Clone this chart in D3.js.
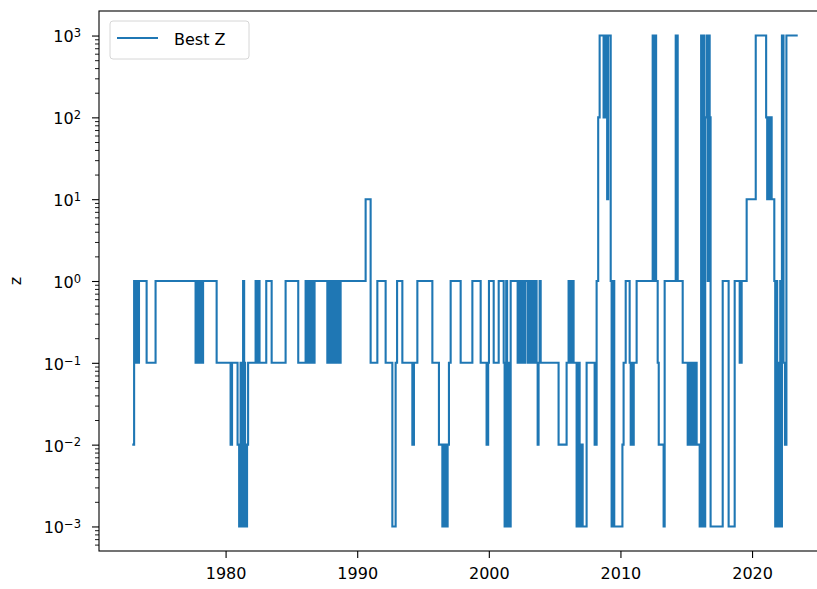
<!DOCTYPE html>
<html>
<head>
<meta charset="utf-8">
<script src="https://cdn.jsdelivr.net/npm/d3@7"></script>
<style>
body { margin: 0; background: #fff; }
svg { display: block; font-family: "DejaVu Sans", sans-serif; }
</style>
</head>
<body>
<svg id="chart" width="817" height="589"></svg>
<script>
// step series: each value holds from its date until the next date
var years = [
	1972.91, 1973.05, 1973.12, 1973.18, 1973.24, 1973.30, 1973.36, 1973.42, 1974.00, 1974.68,
	1977.72, 1977.83, 1977.95, 1978.06, 1978.18, 1978.29, 1979.32, 1980.38, 1980.49, 1980.91,
	1981.03, 1981.14, 1981.22, 1981.33, 1981.41, 1981.48, 1981.63, 1981.71, 1982.28, 1982.39,
	1982.47, 1982.58, 1983.09, 1983.50, 1984.56, 1985.52, 1986.08, 1986.19, 1986.31, 1986.42,
	1986.54, 1986.65, 1986.76, 1987.73, 1987.83, 1987.98, 1988.13, 1988.28, 1988.43, 1988.59,
	1988.74, 1990.64, 1991.02, 1991.53, 1992.16, 1992.67, 1992.92, 1993.03, 1993.43, 1994.19,
	1994.31, 1994.57, 1995.71, 1996.21, 1996.47, 1996.60, 1996.72, 1996.87, 1996.97, 1997.10,
	1997.86, 1998.75, 1999.38, 1999.83, 1999.95, 2000.01, 2000.37, 2000.75, 2001.13, 2001.20,
	2001.32, 2001.39, 2001.51, 2001.58, 2001.66, 2002.19, 2002.30, 2002.42, 2002.53, 2002.65,
	2002.76, 2002.95, 2003.06, 2003.18, 2003.29, 2003.40, 2003.52, 2003.63, 2003.71, 2003.78,
	2003.86, 2003.94, 2005.30, 2005.91, 2006.06, 2006.18, 2006.29, 2006.44, 2006.67, 2006.79,
	2006.90, 2007.05, 2007.13, 2007.43, 2008.04, 2008.19, 2008.31, 2008.42, 2008.72, 2008.88,
	2008.99, 2009.07, 2009.26, 2009.33, 2009.45, 2009.53, 2010.15, 2010.24, 2010.40, 2010.70,
	2010.78, 2010.85, 2010.93, 2011.01, 2011.23, 2012.45, 2012.56, 2012.64, 2012.71, 2012.83,
	2012.91, 2013.28, 2013.36, 2014.20, 2014.35, 2014.73, 2015.11, 2015.22, 2015.34, 2015.45,
	2015.56, 2015.68, 2015.79, 2016.02, 2016.13, 2016.21, 2016.28, 2016.36, 2016.44, 2016.55,
	2016.63, 2016.70, 2016.78, 2016.85, 2017.77, 2018.22, 2018.68, 2019.06, 2019.21, 2019.59,
	2020.28, 2021.07, 2021.15, 2021.22, 2021.30, 2021.38, 2021.49, 2021.69, 2021.76, 2021.83,
	2021.91, 2021.99, 2022.06, 2022.14, 2022.22, 2022.27, 2022.39, 2022.50, 2022.61, 2023.47
];
var bestZ = [
	0.01, 1, 0.1, 1, 0.1, 1, 0.1, 1, 0.1, 1,
	0.1, 1, 0.1, 1, 0.1, 1, 0.1, 0.01, 0.1, 0.01,
	0.001, 0.1, 0.001, 1, 0.1, 0.001, 0.01, 0.1, 1, 0.1,
	1, 0.1, 1, 0.1, 1, 0.1, 1, 0.1, 1, 0.1,
	1, 0.1, 1, 0.1, 1, 0.1, 1, 0.1, 1, 0.1,
	1, 10, 0.1, 1, 0.1, 0.001, 0.1, 1, 0.1, 0.01,
	0.1, 1, 0.1, 0.01, 0.001, 0.01, 0.001, 0.01, 0.1, 1,
	0.1, 1, 0.1, 0.01, 0.1, 1, 0.1, 1, 0.1, 0.001,
	1, 0.001, 0.1, 0.001, 1, 0.1, 1, 0.1, 1, 0.1,
	1, 0.1, 1, 0.1, 1, 0.1, 1, 0.1, 0.01, 0.1,
	1, 0.1, 0.01, 0.1, 1, 0.1, 1, 0.1, 0.001, 0.1,
	0.001, 0.01, 0.001, 0.1, 0.01, 1, 100, 1000, 100, 1000,
	10, 1000, 1, 0.001, 1, 0.001, 0.01, 0.1, 1, 0.1,
	0.01, 0.1, 0.01, 0.1, 1, 1000, 1, 1000, 1, 0.1,
	0.01, 0.001, 1, 1000, 1, 0.1, 0.01, 0.1, 0.01, 0.1,
	0.01, 0.1, 0.01, 0.001, 1000, 0.001, 1000, 0.001, 100, 1000,
	1, 1000, 100, 0.001, 1, 0.001, 1, 0.1, 1, 10,
	1000, 100, 10, 100, 10, 100, 10, 1, 0.001, 1,
	0.001, 0.1, 0.001, 1, 0.001, 1000, 0.1, 0.01, 1000, 1000
];
var xTicks = [1980, 1990, 2000, 2010, 2020];
var yExponents = [-3, -2, -1, 0, 1, 2, 3];
var seriesName = "Best Z";
var yLabel = "z";

var BLUE = "#1f77b4";
var margin = {top: 11, left: 99},
	width = 732,
	height = 540;

var data = years.map(function(d, i) { return [d, bestZ[i]]; });

// matplotlib style 5% autoscale margins
var x0 = d3.min(years), x1 = d3.max(years), xpad = (x1 - x0) * 0.05;
var x = d3.scaleLinear().domain([x0 - xpad, x1 + xpad]).range([0, width]);
var l0 = Math.log10(d3.min(bestZ)), l1 = Math.log10(d3.max(bestZ)), lpad = (l1 - l0) * 0.05;
var y = d3.scaleLog().domain([Math.pow(10, l0 - lpad), Math.pow(10, l1 + lpad)]).range([height, 0]);

var svg = d3.select("#chart");
svg.append("defs").append("clipPath").attr("id", "clip")
	.append("rect").attr("width", width).attr("height", height);

var g = svg.append("g").attr("transform", "translate(" + margin.left + "," + margin.top + ")");

// x axis
var xAxis = g.append("g")
	.attr("transform", "translate(0," + height + ")")
	.call(d3.axisBottom(x).tickValues(xTicks).tickFormat(d3.format("d")).tickSize(7).tickPadding(10));
xAxis.select(".domain").remove();
xAxis.selectAll(".tick line").attr("stroke", "#000").attr("stroke-width", 1.1);
xAxis.selectAll(".tick text").attr("fill", "#000").style("font-size", "16px").style("font-family", "DejaVu Sans");

// y minor ticks
var minor = [];
d3.range(-4, 4).forEach(function(e) {
	d3.range(2, 10).forEach(function(m) {
		var v = m * Math.pow(10, e);
		if (v > y.domain()[0] && v < y.domain()[1]) minor.push(v);
	});
});
var yMinor = g.append("g")
	.call(d3.axisLeft(y).tickValues(minor).tickFormat("").tickSize(4));
yMinor.select(".domain").remove();
yMinor.selectAll(".tick line").attr("stroke", "#000").attr("stroke-width", 0.9);

// y major ticks
var yAxis = g.append("g")
	.call(d3.axisLeft(y).tickValues(yExponents.map(function(e) { return Math.pow(10, e); })).tickFormat("").tickSize(7));
yAxis.select(".domain").remove();
yAxis.selectAll(".tick line").attr("stroke", "#000").attr("stroke-width", 1.1);
yAxis.selectAll(".tick").each(function(d) {
	var e = Math.round(Math.log10(d));
	var t = d3.select(this).append("text")
		.attr("x", -18).attr("y", 0).attr("dy", "0.4em")
		.attr("text-anchor", "end")
		.attr("fill", "#000")
		.style("font-size", "16px").style("font-family", "DejaVu Sans");
	t.append("tspan").text("10");
	t.append("tspan").attr("dy", "-0.45em").style("font-size", "11.5px")
		.text(e < 0 ? "\u2212" + (-e) : String(e));
});

// step line
g.append("path")
	.datum(data)
	.attr("clip-path", "url(#clip)")
	.attr("fill", "none")
	.attr("stroke", BLUE)
	.attr("stroke-width", 2.1)
	.attr("stroke-linejoin", "miter")
	.attr("d", d3.line()
		.x(function(d) { return x(d[0]); })
		.y(function(d) { return y(d[1]); })
		.curve(d3.curveStepAfter));

// spines
g.append("rect")
	.attr("width", width).attr("height", height)
	.attr("fill", "none").attr("stroke", "#000").attr("stroke-width", 1.1);

// y label
svg.append("text")
	.attr("transform", "translate(21," + (margin.top + height / 2) + ") rotate(-90)")
	.attr("text-anchor", "middle")
	.style("font-size", "16px")
	.text(yLabel);

// legend
var legend = g.append("g").attr("transform", "translate(11,10)");
legend.append("rect")
	.attr("width", 139).attr("height", 38).attr("rx", 3)
	.attr("fill", "#fff").attr("fill-opacity", 0.8)
	.attr("stroke", "#d6d6d6").attr("stroke-width", 1);
legend.append("line")
	.attr("x1", 7).attr("x2", 48).attr("y1", 17).attr("y2", 17)
	.attr("stroke", BLUE).attr("stroke-width", 2.1);
legend.append("text")
	.attr("x", 64).attr("y", 24)
	.style("font-size", "16px")
	.text(seriesName);
</script>
</body>
</html>
